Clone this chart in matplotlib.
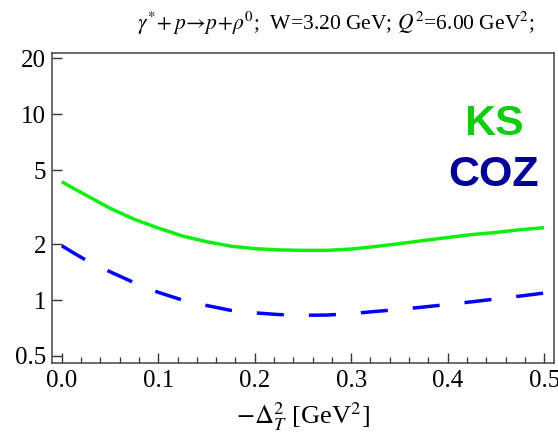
import matplotlib
matplotlib.use("Agg")
import matplotlib.pyplot as plt
from matplotlib.ticker import FixedLocator, MultipleLocator, FixedFormatter

plt.rcParams['mathtext.fontset'] = 'stix'
plt.rcParams['font.family'] = ['Liberation Serif', 'DejaVu Serif']

# -Delta_T^2 grid and cross-section curves
t_vals = [0.000, 0.0125, 0.025, 0.0375, 0.050, 0.075, 0.100, 0.125, 0.150, 0.175,
          0.200, 0.225, 0.250, 0.275, 0.300, 0.325, 0.350, 0.375, 0.400, 0.425,
          0.450, 0.475, 0.500]
ks_vals = [4.33, 3.98, 3.67, 3.38, 3.12, 2.72, 2.44, 2.21, 2.06, 1.95,
           1.89, 1.86, 1.85, 1.85, 1.88, 1.94, 2.01, 2.09, 2.17, 2.25,
           2.31, 2.39, 2.45]
coz_vals = [1.96, 1.79, 1.64, 1.52, 1.42, 1.24, 1.10, 1.00, 0.935, 0.88,
            0.853, 0.835, 0.828, 0.83, 0.845, 0.868, 0.89, 0.917, 0.946, 0.978,
            1.013, 1.05, 1.09]

y_ticks = [0.5, 1, 2, 5, 10, 20]
y_labels = ['0.5', '1', '2', '5', '10', '20']

fig = plt.figure(figsize=(5.58, 4.43), dpi=100)
ax = fig.add_axes([0.0927, 0.1813, 0.9001, 0.6991])

ax.plot(t_vals, ks_vals, color='#11ee11', lw=2.5, solid_capstyle='butt')
ax.plot(t_vals, coz_vals, color='#0000ff', lw=2.5, linestyle=(0, (7.8, 7.2)),
        dash_capstyle='butt')

ax.set_yscale('log')
ax.set_xlim(-0.0104, 0.5102)
ax.set_ylim(0.46, 21.35)

ax.yaxis.set_major_locator(FixedLocator(y_ticks))
ax.yaxis.set_major_formatter(FixedFormatter(y_labels))
ax.yaxis.set_minor_locator(FixedLocator([]))
ax.xaxis.set_major_locator(MultipleLocator(0.1))
ax.xaxis.set_minor_locator(MultipleLocator(0.02))
ax.xaxis.set_major_formatter(matplotlib.ticker.FormatStrFormatter('%.1f'))

ax.tick_params(which='major', direction='in', length=7, width=1.0, color='#333333',
               labelsize=18, top=False, right=False)
ax.tick_params(axis='x', which='major', pad=5)
ax.tick_params(axis='y', which='major', pad=4)
ax.tick_params(which='minor', direction='in', length=4, width=0.9, color='#333333',
               top=False, right=False)
for sp in ax.spines.values():
    sp.set_color('#444444')
    sp.set_linewidth(1.1)

ax.set_xlabel(r'$-\Delta_T^2$ [GeV$^2$]', fontsize=19, labelpad=6)

fig.text(0.602, 0.948,
         r'$\gamma^{*}\!+p\!\rightarrow\! p\!+\!\rho^0$;  W=3.20 GeV; $Q^2$=6.00 GeV$^2$;',
         ha='center', va='center', fontsize=15.5)

ax.text(0.88, 0.77, 'KS', transform=ax.transAxes, ha='center', va='center',
        fontsize=31, fontweight='bold', color='#11cc11', family='Liberation Sans')
ax.text(0.88, 0.605, 'COZ', transform=ax.transAxes, ha='center', va='center',
        fontsize=31, fontweight='bold', color='#000099', family='Liberation Sans')

fig.savefig('out.png', dpi=100)
